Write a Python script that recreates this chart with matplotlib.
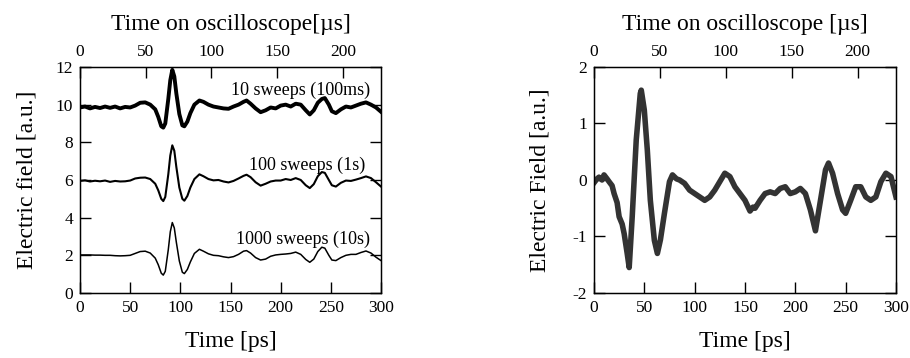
import matplotlib
matplotlib.use("Agg")
import matplotlib.pyplot as plt

plt.rcParams['font.family'] = ['Liberation Serif', 'DejaVu Serif']
plt.rcParams['axes.unicode_minus'] = False

# ---- left panel: averaged traces (time in ps) ----
t_left = [0, 5, 10, 15, 20, 25, 30, 35, 40, 45, 50, 55, 60, 65, 70, 75, 78, 81, 83, 85,
          88, 90, 92, 94, 96, 99, 102, 104, 107, 110, 114, 119, 123, 128, 133, 138, 143,
          148, 153, 158, 163, 166, 170, 175, 180, 185, 190, 195, 200, 205, 210, 215, 220,
          225, 229, 233, 237, 241, 244, 248, 251, 255, 260, 265, 270, 275, 280, 285, 290,
          295, 300]

sweeps_10 = [9.85, 9.9, 9.8, 9.88, 9.82, 9.9, 9.83, 9.9, 9.8, 9.88, 9.85, 9.95, 10.1, 10.12,
             10.0, 9.75, 9.35, 8.85, 8.78, 9.0, 10.3, 11.3, 11.85, 11.5, 10.6, 9.5, 8.9, 8.85,
             9.1, 9.55, 10.0, 10.22, 10.15, 10.0, 9.9, 9.85, 9.8, 9.78, 9.9, 10.0, 10.15,
             10.22, 10.05, 9.8, 9.6, 9.7, 9.85, 9.8, 9.95, 10.0, 9.9, 10.05, 10.0, 9.7, 9.48,
             9.7, 10.1, 10.3, 10.35, 10.0, 9.65, 9.55, 9.75, 9.9, 9.85, 9.95, 10.05, 10.12,
             10.0, 9.85, 9.62]

sweeps_100 = [5.95, 5.98, 5.92, 5.96, 5.93, 5.97, 5.9, 5.95, 5.92, 5.93, 5.97, 6.08, 6.12,
              6.13, 6.05, 5.8, 5.45, 5.0, 4.88, 5.1, 6.3, 7.3, 7.84, 7.55, 6.7, 5.6, 5.0, 4.9,
              5.15, 5.6, 6.05, 6.3, 6.2, 6.05, 5.98, 6.0, 5.92, 5.87, 5.95, 6.08, 6.22, 6.28,
              6.15, 5.88, 5.7, 5.8, 5.92, 5.97, 5.97, 6.05, 6.0, 6.1, 6.0, 5.72, 5.57, 5.78,
              6.2, 6.42, 6.38, 6.0, 5.72, 5.65, 5.85, 5.97, 5.95, 6.02, 6.1, 6.19, 6.1, 5.88,
              5.65]

sweeps_1000 = [2.02, 2.02, 2.02, 2.01, 2.01, 2.0, 2.0, 1.98, 1.97, 1.98, 2.0, 2.1, 2.2, 2.22,
               2.12, 1.85, 1.5, 1.05, 0.95, 1.15, 2.3, 3.25, 3.74, 3.45, 2.7, 1.7, 1.1, 1.03,
               1.25, 1.65, 2.1, 2.32, 2.22, 2.08, 2.0, 1.98, 1.92, 1.88, 1.93, 2.05, 2.22,
               2.25, 2.12, 1.88, 1.75, 1.8, 1.95, 2.02, 2.05, 2.07, 2.1, 2.17, 2.05, 1.78,
               1.63, 1.8, 2.2, 2.43, 2.38, 2.0, 1.75, 1.72, 1.88, 2.0, 2.05, 2.05, 2.15, 2.23,
               2.12, 1.9, 1.72]

labels_left = ['10 sweeps (100ms)', '100 sweeps (1s)', '1000 sweeps (10s)']

# ---- right panel: single trace (time in ps) ----
t_right = [0, 3, 5, 8, 10, 13, 15, 18, 20, 23, 25, 28, 30, 33, 35, 38, 42, 46, 47, 50, 53,
           56, 60, 63, 66, 70, 75, 78, 82, 85, 90, 95, 100, 105, 110, 115, 120, 125, 130,
           135, 140, 145, 150, 155, 158, 160, 165, 170, 175, 180, 185, 190, 195, 200, 205,
           210, 215, 220, 225, 230, 233, 237, 242, 247, 250, 255, 260, 265, 270, 275, 280,
           285, 290, 295, 300]

field_right = [-0.05, 0.02, 0.05, 0.0, 0.09, 0.02, -0.03, -0.1, -0.24, -0.4, -0.65, -0.78,
               -0.95, -1.3, -1.55, -0.65, 0.71, 1.53, 1.59, 1.24, 0.53, -0.36, -1.07, -1.3,
               -1.06, -0.59, -0.03, 0.09, 0.02, 0.0, -0.06, -0.18, -0.24, -0.3, -0.36, -0.3,
               -0.18, -0.03, 0.12, 0.06, -0.12, -0.24, -0.36, -0.55, -0.48, -0.5, -0.36,
               -0.24, -0.21, -0.24, -0.15, -0.12, -0.24, -0.21, -0.15, -0.24, -0.53, -0.9,
               -0.36, 0.18, 0.3, 0.12, -0.24, -0.53, -0.59, -0.36, -0.12, -0.12, -0.3, -0.36,
               -0.3, -0.03, 0.12, 0.06, -0.3]

fig = plt.figure(figsize=(9.1, 3.58), dpi=100)
ax1 = fig.add_axes([0.0879, 0.1816, 0.3308, 0.6313])
ax2 = fig.add_axes([0.6527, 0.1816, 0.3319, 0.6313])

ax1.plot(t_left, sweeps_10, color='black', lw=2.8)
ax1.plot(t_left, sweeps_100, color='black', lw=1.5)
ax1.plot(t_left, sweeps_1000, color='black', lw=1.1)
ax1.text(220, 10.76, labels_left[0], ha='center', va='center', fontsize=13)
ax1.text(226, 6.77, labels_left[1], ha='center', va='center', fontsize=13)
ax1.text(222, 2.86, labels_left[2], ha='center', va='center', fontsize=13)
ax1.set_xlim(0, 300)
ax1.set_ylim(0, 12)
ax1.set_yticks(range(0, 13, 2))
ax1.set_ylabel('Electric field [a.u.]', fontsize=17, labelpad=13)

ax2.plot(t_right, field_right, color='#333333', lw=4.0)
ax2.set_xlim(0, 300)
ax2.set_ylim(-2, 2)
ax2.set_yticks([-2, -1, 0, 1, 2])
ax2.set_ylabel('Electric Field [a.u.]', fontsize=17, labelpad=16)

for ax, top_label in [(ax1, 'Time on oscilloscope[µs]'), (ax2, 'Time on oscilloscope [µs]')]:
    ax.set_xticks(range(0, 301, 50))
    ax.set_xlabel('Time [ps]', fontsize=17, labelpad=11)
    ax.tick_params(direction='in', length=8, width=1, labelsize=12.5,
                   top=False, right=True, pad=5)
    for s in ax.spines.values():
        s.set_linewidth(1)
    top = ax.twiny()
    top.set_xlim(0, 229)
    top.set_xticks(range(0, 201, 50))
    top.tick_params(direction='in', length=8, width=1, labelsize=12.5, pad=5)
    top.set_xlabel(top_label, fontsize=17, labelpad=10)

fig.savefig('out.png', dpi=100)
